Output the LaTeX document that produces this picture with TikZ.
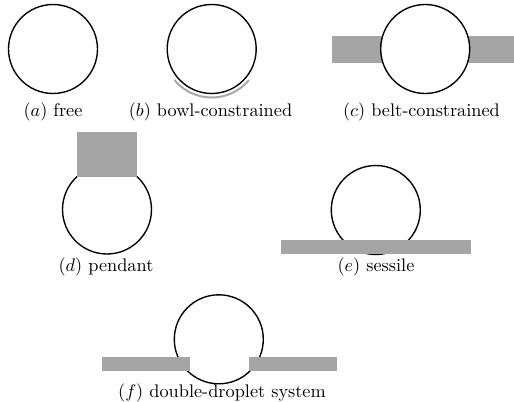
\documentclass[tikz,border=0pt]{standalone}
\begin{document}
\begin{tikzpicture}[x=0.58pt, y=-0.58pt,
  drop/.style={draw=black, line width=0.8pt, fill=white},
  wall/.style={fill=wallgray, draw=none},
  bowl/.style={draw=bowlgray, line width=1.2pt},
  sublabel/.style={anchor=base, inner sep=0pt, scale=1.06}]
\definecolor{wallgray}{RGB}{165,165,165}
\definecolor{bowlgray}{RGB}{170,170,170}
\useasboundingbox (0,0) rectangle (514,402);
\def\R{44.5}

% drop centres
\coordinate (ca) at (53,49);
\coordinate (cb) at (211.7,49);
\coordinate (cc) at (425.2,49);
\coordinate (cd) at (107,209.5);
\coordinate (ce) at (375.8,210);
\coordinate (cf) at (218.8,339.3);

% (a) free drop
\draw[drop] (ca) circle (\R);
\node[sublabel] (la) at (53,116.5) {$(a)$ free};

% (b) drop resting in a bowl
\draw[drop] (cb) circle (\R);
\draw[bowl] ([shift={(40:48.5)}]cb) arc (40:140:48.5);
\node[sublabel] (lb) at (210.5,116.5) {$(b)$ bowl-constrained};

% (c) drop held by a belt
\fill[wall] (331.7,35.7) rectangle (514,63.3);
\draw[drop] (cc) circle (\R);
\node[sublabel] (lc) at (421.5,116.5) {$(c)$ belt-constrained};

% (d) pendant drop hanging from a block
\draw[drop] (cd) circle (\R);
\fill[wall] (76.5,132.3) rectangle (137.3,176.7);
\node[sublabel] (ld) at (106,271) {$(d)$ pendant};

% (e) sessile drop on a plate
\draw[drop] (ce) circle (\R);
\fill[wall] (281,239.7) rectangle (471,254);
\node[sublabel] (le) at (376,271) {$(e)$ sessile};

% (f) drop through a slotted plate
\draw[drop] (cf) circle (\R);
\fill[wall] (101.7,357) rectangle (189.6,370.7);
\fill[wall] (248.8,357) rectangle (336.7,370.7);
\node[sublabel] (lf) at (222,397) {$(f)$ double-droplet system};
\end{tikzpicture}
\end{document}
